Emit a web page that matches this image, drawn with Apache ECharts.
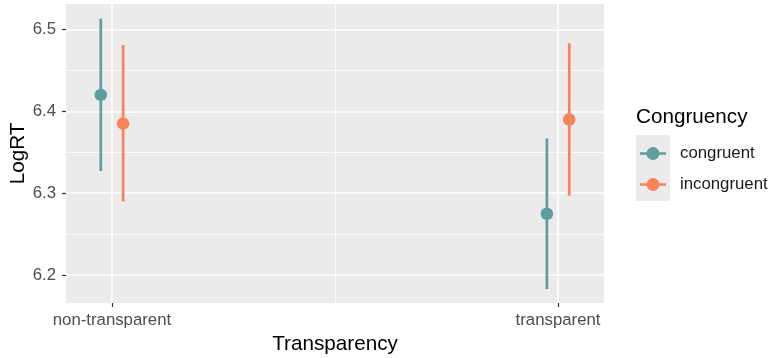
<!DOCTYPE html>
<html><head><meta charset="utf-8">
<script src="https://cdn.jsdelivr.net/npm/echarts@6/dist/echarts.min.js"></script>
<style>html,body{margin:0;padding:0;background:#fff}#chart{width:769px;height:358px}</style>
</head><body><div id="chart"></div>
<script>
// Mean LogRT with error bars, by transparency and congruency
const categories = ['non-transparent', 'transparent'];
const groups = ['congruent', 'incongruent'];
const congruentMean = [6.420, 6.275];
const congruentLow = [6.327, 6.183];
const congruentHigh = [6.513, 6.367];
const incongruentMean = [6.385, 6.390];
const incongruentLow = [6.290, 6.297];
const incongruentHigh = [6.481, 6.483];
const yTicks = [6.2, 6.3, 6.4, 6.5];
const yMinor = [6.25, 6.35, 6.45];

const colors = { congruent: '#5E9EA0', incongruent: '#F5845A' };
const dodge = { congruent: -0.025, incongruent: 0.025 };
const font = '"Liberation Sans", Arial, Helvetica, sans-serif';

function pointData(group, mean) {
  return mean.map((m, i) => [i + 1 + dodge[group], m]);
}
function barData(group, low, high) {
  return low.map((l, i) => [i + 1 + dodge[group], l, high[i]]);
}
function renderBar(params, api) {
  const p1 = api.coord([api.value(0), api.value(1)]);
  const p2 = api.coord([api.value(0), api.value(2)]);
  return {
    type: 'line',
    shape: { x1: p1[0], y1: p1[1], x2: p2[0], y2: p2[1] },
    style: { stroke: api.visual('color'), lineWidth: 2.7 }
  };
}

// panel grid: major lines at the ticks, minor lines halfway between
const gridLines = [];
yTicks.forEach(v => gridLines.push({ yAxis: v, lineStyle: { color: '#fff', width: 1.7, type: 'solid' } }));
yMinor.forEach(v => gridLines.push({ yAxis: v, lineStyle: { color: '#fff', width: 0.8, type: 'solid' } }));
categories.forEach((c, i) => gridLines.push({ xAxis: i + 1, lineStyle: { color: '#fff', width: 1.7, type: 'solid' } }));
gridLines.push({ xAxis: 1.5, lineStyle: { color: '#fff', width: 0.8, type: 'solid' } });

const chart = echarts.init(document.getElementById('chart'));
chart.setOption({
  animation: false,
  textStyle: { fontFamily: font },
  title: {
    text: 'Congruency', left: 636, top: 107, padding: 0,
    textStyle: { fontFamily: font, fontSize: 20.7, fontWeight: 'normal', color: '#000' }
  },
  graphic: [{
    type: 'rect', left: 636, top: 135, shape: { width: 34, height: 66 },
    style: { fill: '#EBEBEB' }, z: 0
  }],
  legend: {
    orient: 'vertical', left: 640, top: 145, padding: 0,
    itemWidth: 26, itemHeight: 13, itemGap: 14,
    data: groups,
    icon: 'path://M0,5.15H26V7.85H0Z M6.5,6.5a6.5,6.5 0 1,1 13,0a6.5,6.5 0 1,1 -13,0Z',
    textStyle: { fontFamily: font, fontSize: 16.8, color: '#1A1A1A', padding: [0, 0, 0, 9] }
  },
  grid: {
    left: 66, top: 4, width: 538, height: 299, show: true,
    backgroundColor: '#EBEBEB', borderWidth: 0,
    containLabel: false, outerBoundsMode: 'none'
  },
  xAxis: {
    type: 'value', min: 0.897, max: 2.103,
    name: 'Transparency', nameLocation: 'middle', nameGap: 29.5,
    nameTextStyle: { fontFamily: font, fontSize: 20.7, color: '#000' },
    axisLine: { show: false },
    axisTick: { show: true, length: 4, customValues: [1, 2], lineStyle: { color: '#333', width: 1.2 } },
    axisLabel: {
      customValues: [1, 2], margin: 9, fontSize: 16.8, color: '#4D4D4D', fontFamily: font,
      formatter: v => categories[Math.round(v) - 1]
    },
    splitLine: { show: false }
  },
  yAxis: {
    type: 'value', min: 6.166, max: 6.531,
    name: 'LogRT', nameLocation: 'middle', nameGap: 37, nameRotate: 90, nameMoveOverlap: false,
    nameTextStyle: { fontFamily: font, fontSize: 20.7, color: '#000' },
    axisLine: { show: false },
    axisTick: { show: true, length: 4, customValues: yTicks, lineStyle: { color: '#333', width: 1.2 } },
    axisLabel: {
      customValues: yTicks, margin: 10, fontSize: 16.8, color: '#4D4D4D', fontFamily: font,
      formatter: v => v.toFixed(1)
    },
    splitLine: { show: false }
  },
  series: [
    {
      name: 'congruent', type: 'scatter', z: 12, symbolSize: 12.5,
      itemStyle: { color: colors.congruent, opacity: 1 },
      data: pointData('congruent', congruentMean)
    },
    {
      name: 'incongruent', type: 'scatter', z: 12, symbolSize: 12.5,
      itemStyle: { color: colors.incongruent, opacity: 1 },
      data: pointData('incongruent', incongruentMean)
    },
    {
      name: 'congruent', type: 'custom', z: 11, renderItem: renderBar,
      itemStyle: { color: colors.congruent },
      encode: { x: 0, y: [1, 2] },
      data: barData('congruent', congruentLow, congruentHigh)
    },
    {
      name: 'incongruent', type: 'custom', z: 11, renderItem: renderBar,
      itemStyle: { color: colors.incongruent },
      encode: { x: 0, y: [1, 2] },
      data: barData('incongruent', incongruentLow, incongruentHigh)
    },
    {
      name: 'grid', type: 'line', z: 1, data: [], silent: true,
      markLine: { silent: true, symbol: 'none', label: { show: false }, animation: false, data: gridLines }
    }
  ]
});
</script>
</body></html>
